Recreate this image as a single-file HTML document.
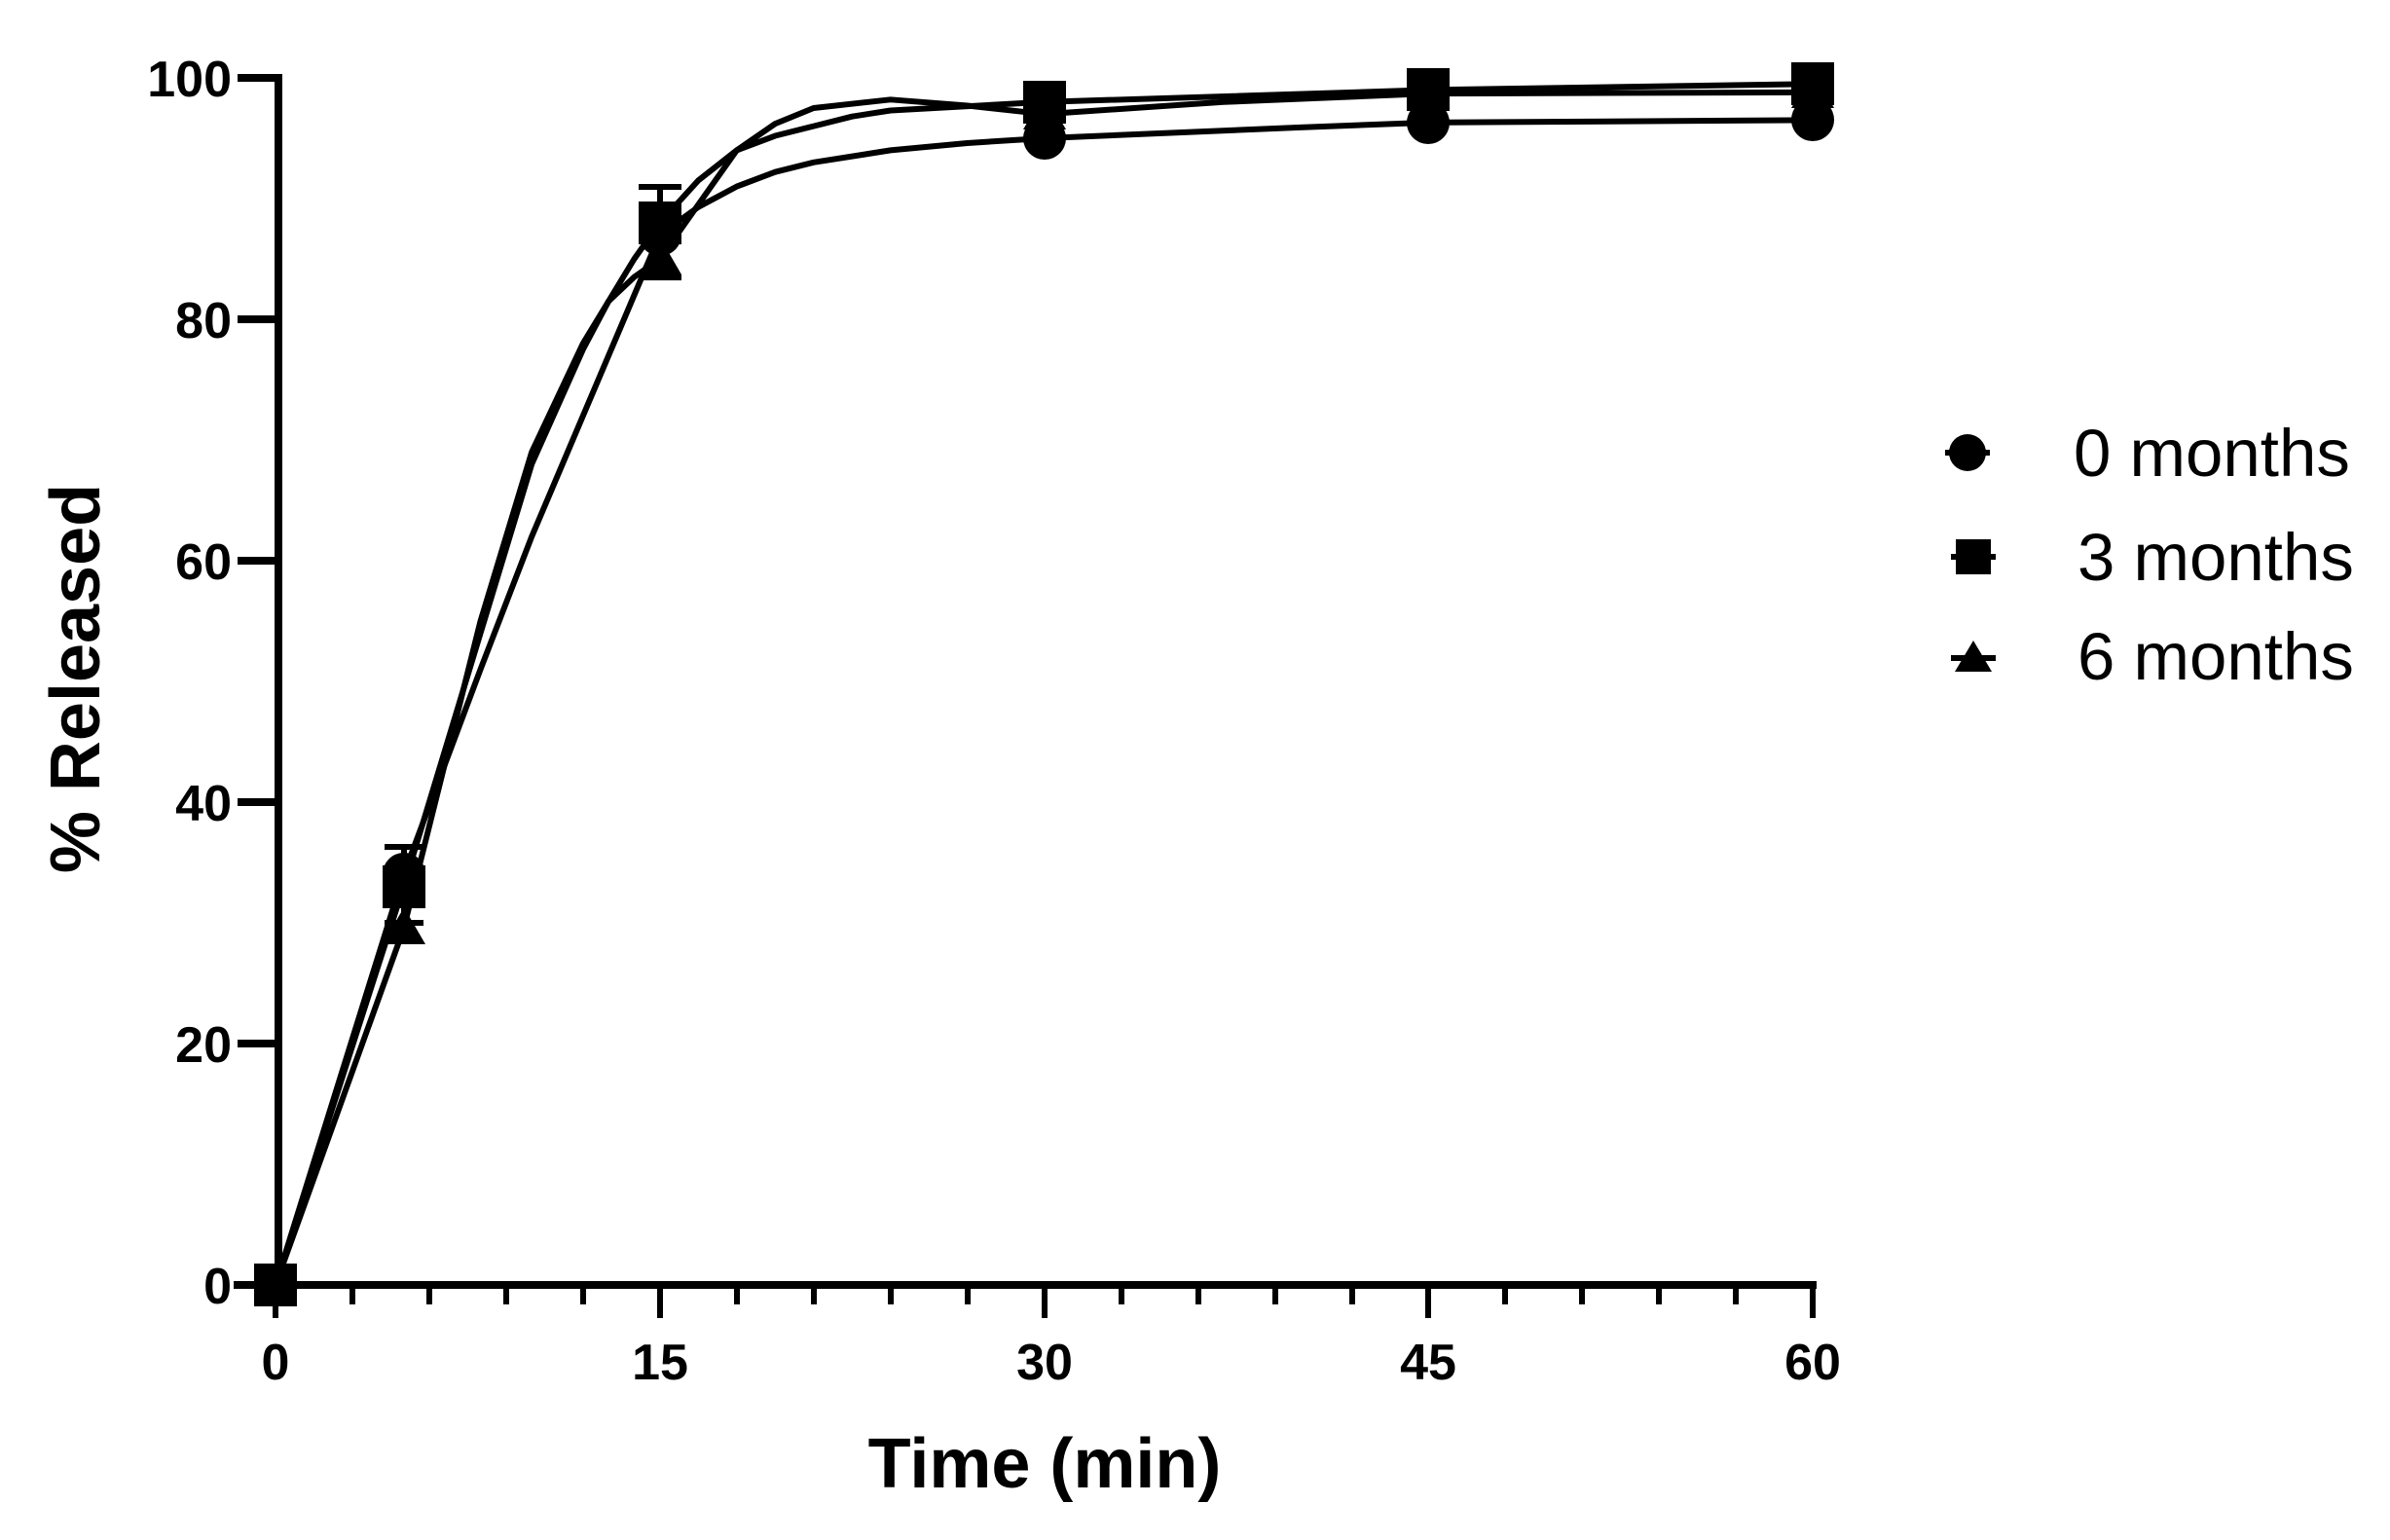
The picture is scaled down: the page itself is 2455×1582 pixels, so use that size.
<!DOCTYPE html>
<html><head><meta charset="utf-8"><style>
html,body{margin:0;padding:0;background:#fff;}
svg{display:block;}
text{font-family:"Liberation Sans",Arial,sans-serif;fill:#000;}
</style></head><body>
<svg width="2455" height="1582" viewBox="0 0 2455 1582" xmlns="http://www.w3.org/2000/svg">
<g transform="translate(283,1320) scale(26.32,-12.4)" fill="none" stroke="#000" stroke-linejoin="round" stroke-linecap="round">
<polyline vector-effect="non-scaling-stroke" stroke-width="6" points="0,0 5,34 8,51 10,62 12,72 13,77 14,82 15,87 16.5,89.3 18,91 19.5,92.2 21,93 24,94 27,94.6 30,95 40,95.9 45,96.3 60,96.5"/>
<polyline vector-effect="non-scaling-stroke" stroke-width="6" points="0,0 5,33 8,54 10,68 12,77.5 13,81.5 14,85 15,88 16.5,91.5 18,94 19.5,95.2 21,96 22.5,96.8 24,97.3 30,98 45,99 60,99.5"/>
<polyline vector-effect="non-scaling-stroke" stroke-width="6" points="0,0 5,29.5 8,55 10,69 12,78 13,81.5 14,83.5 15,85 16.5,89.5 18,94 19.5,96.2 21,97.5 24,98.2 27,97.7 30,97 37,98 45,98.7 60,98.8"/>
</g>
<g stroke="#000" stroke-width="8" fill="none">
<line x1="286" y1="76" x2="286" y2="1324"/>
<line x1="240" y1="1320" x2="1866" y2="1320"/>
<line x1="244" y1="80" x2="290" y2="80"/>
<line x1="244" y1="328" x2="290" y2="328"/>
<line x1="244" y1="576" x2="290" y2="576"/>
<line x1="244" y1="824" x2="290" y2="824"/>
<line x1="244" y1="1072" x2="290" y2="1072"/>
<line x1="244" y1="1320" x2="290" y2="1320"/>
</g>
<g stroke="#000" stroke-width="6">
<line x1="283" y1="1320" x2="283" y2="1354"/>
<line x1="678" y1="1320" x2="678" y2="1354"/>
<line x1="1073" y1="1320" x2="1073" y2="1354"/>
<line x1="1467" y1="1320" x2="1467" y2="1354"/>
<line x1="1862" y1="1320" x2="1862" y2="1354"/>
<line x1="362" y1="1320" x2="362" y2="1340"/><line x1="441" y1="1320" x2="441" y2="1340"/><line x1="520" y1="1320" x2="520" y2="1340"/><line x1="599" y1="1320" x2="599" y2="1340"/>
<line x1="757" y1="1320" x2="757" y2="1340"/><line x1="836" y1="1320" x2="836" y2="1340"/><line x1="915" y1="1320" x2="915" y2="1340"/><line x1="994" y1="1320" x2="994" y2="1340"/>
<line x1="1152" y1="1320" x2="1152" y2="1340"/><line x1="1231" y1="1320" x2="1231" y2="1340"/><line x1="1310" y1="1320" x2="1310" y2="1340"/><line x1="1389" y1="1320" x2="1389" y2="1340"/>
<line x1="1546" y1="1320" x2="1546" y2="1340"/><line x1="1625" y1="1320" x2="1625" y2="1340"/><line x1="1704" y1="1320" x2="1704" y2="1340"/><line x1="1783" y1="1320" x2="1783" y2="1340"/>
</g>
<g font-size="52" font-weight="bold" text-anchor="end">
<text x="238" y="99">100</text>
<text x="238" y="347">80</text>
<text x="238" y="595">60</text>
<text x="238" y="843">40</text>
<text x="238" y="1091">20</text>
<text x="238" y="1339">0</text>
</g>
<g font-size="52" font-weight="bold" text-anchor="middle">
<text x="283" y="1417">0</text>
<text x="678" y="1417">15</text>
<text x="1073" y="1417">30</text>
<text x="1467" y="1417">45</text>
<text x="1862" y="1417">60</text>
</g>
<text x="1073" y="1528" font-size="72" font-weight="bold" text-anchor="middle">Time (min)</text>
<text transform="translate(102,697) rotate(-90)" font-size="72" font-weight="bold" text-anchor="middle">% Released</text>
<g stroke="#000" stroke-width="6">
<line x1="415" y1="870" x2="415" y2="948"/><line x1="395" y1="870" x2="435" y2="870"/><line x1="395" y1="948" x2="435" y2="948"/>
<line x1="678" y1="192" x2="678" y2="285"/><line x1="656" y1="192" x2="700" y2="192"/><line x1="656" y1="285" x2="700" y2="285"/>
</g>
<g fill="#000">
<polygon points="415,932 393,970 437,970"/>
<polygon points="678,244 656,282 700,282"/>
<polygon points="1073,95 1051,133 1095,133"/>
<polygon points="1467,74 1445,112 1489,112"/>
<polygon points="1862,73 1840,111 1884,111"/>
<polygon points="283,1298 261,1336 305,1336"/>
</g>
<g fill="#000">
<circle cx="415" cy="898" r="22"/><circle cx="678" cy="241" r="22"/><circle cx="1073" cy="142" r="22"/><circle cx="1467" cy="126" r="22"/><circle cx="1862" cy="123" r="22"/><circle cx="283" cy="1320" r="22"/>
</g>
<g fill="#000">
<rect x="393" y="889" width="44" height="44"/><rect x="656" y="207" width="44" height="44"/><rect x="1051" y="83" width="44" height="44"/><rect x="1445" y="70" width="44" height="44"/><rect x="1840" y="64" width="44" height="44"/><rect x="261" y="1298" width="44" height="44"/>
</g>
<g stroke="#000" stroke-width="6">
<line x1="1998" y1="465" x2="2044" y2="465"/>
<line x1="2004" y1="572" x2="2050" y2="572"/>
<line x1="2004" y1="676" x2="2050" y2="676"/>
</g>
<circle cx="2021" cy="465" r="19" fill="#000"/>
<rect x="2009" y="554" width="36" height="36" fill="#000"/>
<polygon points="2027,658 2008,690 2046,690" fill="#000"/>
<g font-size="69">
<text x="2130" y="489">0 months</text>
<text x="2134" y="596">3 months</text>
<text x="2134" y="698">6 months</text>
</g>
</svg>
</body></html>
